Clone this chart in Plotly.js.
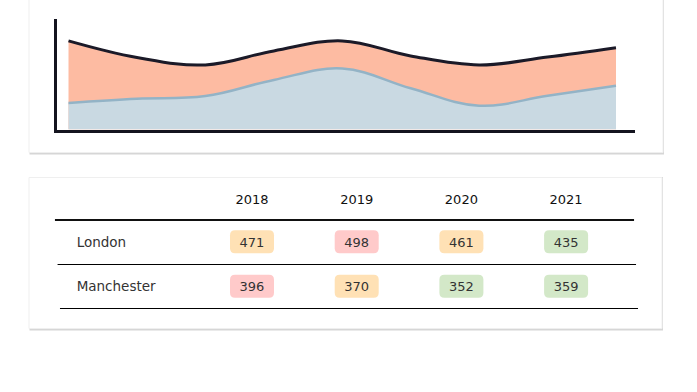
<!DOCTYPE html>
<html>
<head>
<meta charset="utf-8">
<script src="https://cdn.plot.ly/plotly-3.0.1.min.js"></script>
<style>html,body{margin:0;padding:0;background:#fff;}#chart{width:697px;height:392px;}</style>
</head>
<body>
<div id="chart"></div>
<script>
// ---- area chart data ----
const steps = [0, 1, 2, 3, 4, 5, 6, 7, 8];
const upperValues = [443, 360, 323, 393, 443, 368, 323, 362, 409];
const lowerValues = [133, 154, 167, 248, 305, 206, 119, 169, 219];

// ---- table data ----
const years = ['2018', '2019', '2020', '2021'];
const cities = ['London', 'Manchester'];
const londonValues = [471, 498, 461, 435];
const manchesterValues = [396, 370, 352, 359];

// ---- helpers ----
const W = 697, H = 392;
const px = x => x / W;
const py = y => 1 - y / H;
const FONT = 'DejaVu Sans';

const pillColors = {low: '#d3e8c8', mid: '#ffe1b5', high: '#ffcaca'};
function pillColor(v, row) {
  const mn = Math.min(...row), mx = Math.max(...row);
  const t = (v - mn) / (mx - mn);
  return t < 0.33 ? pillColors.low : (t < 0.67 ? pillColors.mid : pillColors.high);
}
function roundRect(cx, cy, hw, hh, rx, ry) {
  const l = cx - hw, r = cx + hw, t = cy - hh, b = cy + hh;
  return `M${l + rx},${t} L${r - rx},${t} Q${r},${t} ${r},${t + ry} L${r},${b - ry} Q${r},${b} ${r - rx},${b} ` +
         `L${l + rx},${b} Q${l},${b} ${l},${b - ry} L${l},${t + ry} Q${l},${t} ${l + rx},${t} Z`;
}

// table axis scales: column unit = 104.7px, row unit = 44.5px
const colPx = 104.7, colOff = 147.3;
const rowPx = 44.5, rowOff = 198;
const x2range = [-colOff / colPx, (W - colOff) / colPx];
const y2range = [(H - rowOff) / rowPx, -rowOff / rowPx];

const yearCols = years.map((_, i) => i + 1);
const rows = [londonValues, manchesterValues];

const traces = [
  {x: steps, y: upperValues, type: 'scatter', mode: 'lines', fill: 'tozeroy',
   fillcolor: '#fdbba2', line: {color: '#1b1a28', width: 3, shape: 'spline', smoothing: 1.1},
   hoverinfo: 'skip', showlegend: false},
  {x: steps, y: lowerValues, type: 'scatter', mode: 'lines', fill: 'tozeroy',
   fillcolor: '#c9d9e2', line: {color: '#93b3c6', width: 2.5, shape: 'spline', smoothing: 1.1},
   hoverinfo: 'skip', showlegend: false},
  // header
  {x: yearCols, y: years.map(() => 0.07), text: years, mode: 'text', type: 'scatter',
   xaxis: 'x2', yaxis: 'y2', textfont: {family: FONT, size: 13, color: '#111111'},
   hoverinfo: 'skip', showlegend: false},
  // row labels
  {x: cities.map(() => -0.675), y: cities.map((_, i) => i + 1.02), text: cities, mode: 'text',
   textposition: 'middle right', type: 'scatter', xaxis: 'x2', yaxis: 'y2',
   textfont: {family: FONT, size: 13.5, color: '#333333'}, hoverinfo: 'skip', showlegend: false}
];
rows.forEach((vals, r) => {
  traces.push({x: yearCols, y: vals.map(() => r + 1.02), text: vals.map(String), mode: 'text',
    type: 'scatter', xaxis: 'x2', yaxis: 'y2',
    textfont: {family: FONT, size: 13, color: '#333333'}, hoverinfo: 'skip', showlegend: false});
});

const shapes = [
  // card shadows + cards
  {type: 'rect', xref: 'paper', yref: 'paper', x0: px(29.5), x1: px(664), y0: py(154.5), y1: py(-10),
   fillcolor: '#d6d6d6', line: {width: 0}, layer: 'below'},
  {type: 'rect', xref: 'paper', yref: 'paper', x0: px(29), x1: px(663), y0: py(152.5), y1: py(-10),
   fillcolor: '#ffffff', line: {color: '#efefef', width: 1}, layer: 'below'},
  {type: 'rect', xref: 'paper', yref: 'paper', x0: px(29.5), x1: px(663), y0: py(330.5), y1: py(177),
   fillcolor: '#d6d6d6', line: {width: 0}, layer: 'below'},
  {type: 'rect', xref: 'paper', yref: 'paper', x0: px(29), x1: px(662), y0: py(328.5), y1: py(177.5),
   fillcolor: '#ffffff', line: {color: '#efefef', width: 1}, layer: 'below'},
  // table rules
  {type: 'line', xref: 'x2', yref: 'y2', x0: -0.882, x1: 4.649, y0: 0.4944, y1: 0.4944,
   line: {color: '#111111', width: 2}},
  {type: 'line', xref: 'x2', yref: 'y2', x0: -0.857, x1: 4.668, y0: 1.4944, y1: 1.4944,
   line: {color: '#000000', width: 1}},
  {type: 'line', xref: 'x2', yref: 'y2', x0: -0.834, x1: 4.687, y0: 2.4831, y1: 2.4831,
   line: {color: '#000000', width: 1}}
];
const hw = 22 / colPx, hh = 11.5 / rowPx, rx = 5 / colPx, ry = 5 / rowPx;
rows.forEach((vals, r) => {
  vals.forEach((v, c) => {
    shapes.push({type: 'path', xref: 'x2', yref: 'y2', layer: 'below',
      path: roundRect(c + 1, r + 1 - 0.015, hw, hh, rx, ry),
      fillcolor: pillColor(v, vals), line: {width: 0}});
  });
});

const layout = {
  width: W, height: H,
  margin: {l: 0, r: 0, t: 0, b: 0},
  paper_bgcolor: '#ffffff', plot_bgcolor: 'rgba(0,0,0,0)',
  showlegend: false,
  xaxis: {domain: [px(57), px(635)], range: [-0.168, 8.278], showgrid: false, zeroline: false,
    showticklabels: false, ticks: '', showline: true, linewidth: 3, linecolor: '#14141f', fixedrange: true},
  yaxis: {domain: [py(129.5), py(19)], range: [0, 552.5], showgrid: false, zeroline: false,
    showticklabels: false, ticks: '', showline: true, linewidth: 3, linecolor: '#14141f', fixedrange: true},
  xaxis2: {domain: [0, 1], range: x2range, visible: false, anchor: 'y2'},
  yaxis2: {domain: [0, 1], range: y2range, visible: false, anchor: 'x2'},
  shapes: shapes
};

Plotly.newPlot('chart', traces, layout, {displayModeBar: false, staticPlot: true});
</script>
</body>
</html>
